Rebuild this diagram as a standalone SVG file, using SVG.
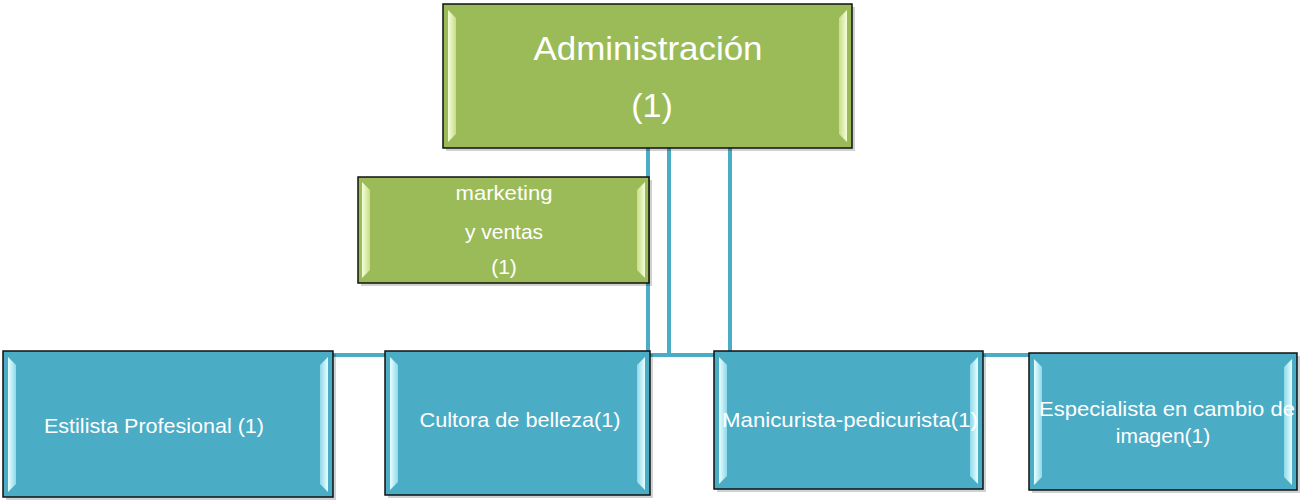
<svg xmlns="http://www.w3.org/2000/svg" width="1300" height="500" viewBox="0 0 1300 500">
<defs>
<linearGradient id="gbevL" x1="0" y1="0" x2="1" y2="0"><stop offset="0" stop-color="#f4ffd8"/><stop offset="1" stop-color="#c8dc8c"/></linearGradient>
<linearGradient id="gbevR" x1="1" y1="0" x2="0" y2="0"><stop offset="0" stop-color="#f4ffd8"/><stop offset="1" stop-color="#c8dc8c"/></linearGradient>
<linearGradient id="bbevL" x1="0" y1="0" x2="1" y2="0"><stop offset="0" stop-color="#e8ffff"/><stop offset="1" stop-color="#8fd8ea"/></linearGradient>
<linearGradient id="bbevR" x1="1" y1="0" x2="0" y2="0"><stop offset="0" stop-color="#e8ffff"/><stop offset="1" stop-color="#8fd8ea"/></linearGradient>
</defs>
<style>
.g{fill:#9bbb59;stroke:#111;stroke-width:1.5}
.b{fill:#4bacc6;stroke:#111;stroke-width:1.5}
.sh{fill:#000;opacity:0.18}
.c{fill:none;stroke:#4bacc6;stroke-width:4}
text{font-family:"Liberation Sans",Arial,sans-serif;fill:#fff;text-anchor:middle}
</style>
<g id="connectors">
<line class="c" x1="333" y1="355" x2="1029" y2="355"/>
<line class="c" x1="648" y1="148" x2="648" y2="355"/>
<line class="c" x1="669" y1="148" x2="669" y2="355"/>
<line class="c" x1="730" y1="148" x2="730" y2="355"/>
</g>
<g id="admin">
<rect class="sh" x="446" y="7" width="409" height="144"/>
<rect class="g" x="443" y="4" width="409" height="144"/>
<polygon fill="url(#gbevL)" points="448,10 456,18 456,134 448,142"/>
<polygon fill="url(#gbevR)" points="847,10 839,18 839,134 847,142"/>
<text x="648" y="60" font-size="34" textLength="229" lengthAdjust="spacingAndGlyphs">Administración</text>
<text x="652" y="117" font-size="34">(1)</text>
</g>
<g id="marketing">
<rect class="sh" x="361" y="180" width="291" height="106"/>
<rect class="g" x="358" y="177" width="291" height="106"/>
<polygon fill="url(#gbevL)" points="362,182 370,190 370,270 362,278"/>
<polygon fill="url(#gbevR)" points="645,182 637,190 637,270 645,278"/>
<text x="504" y="200" font-size="21" textLength="97" lengthAdjust="spacingAndGlyphs">marketing</text>
<text x="504" y="239" font-size="21">y ventas</text>
<text x="504" y="274" font-size="21">(1)</text>
</g>
<g id="estilista">
<rect class="sh" x="6" y="354" width="330" height="146"/>
<rect class="b" x="3" y="351" width="330" height="146"/>
<polygon fill="url(#bbevL)" points="8,357 16,365 16,484 8,492"/>
<polygon fill="url(#bbevR)" points="328,357 320,365 320,484 328,492"/>
<text x="154" y="433" font-size="21" textLength="220" lengthAdjust="spacingAndGlyphs">Estilista Profesional (1)</text>
</g>
<g id="cultora">
<rect class="sh" x="388" y="354" width="265" height="144"/>
<rect class="b" x="385" y="351" width="265" height="144"/>
<polygon fill="url(#bbevL)" points="390,357 398,365 398,482 390,490"/>
<polygon fill="url(#bbevR)" points="645,357 637,365 637,482 645,490"/>
<text x="520" y="427" font-size="21" textLength="201" lengthAdjust="spacingAndGlyphs">Cultora de belleza(1)</text>
</g>
<g id="manicurista">
<rect class="sh" x="717" y="354" width="269" height="138"/>
<rect class="b" x="714" y="351" width="269" height="138"/>
<polygon fill="url(#bbevL)" points="719,357 727,365 727,476 719,484"/>
<polygon fill="url(#bbevR)" points="978,357 970,365 970,476 978,484"/>
<text x="850" y="427" font-size="21" textLength="256" lengthAdjust="spacingAndGlyphs">Manicurista-pedicurista(1)</text>
</g>
<g id="especialista">
<rect class="sh" x="1032" y="356" width="268" height="137"/>
<rect class="b" x="1029" y="353" width="268" height="137"/>
<polygon fill="url(#bbevL)" points="1034,359 1042,367 1042,477 1034,485"/>
<polygon fill="url(#bbevR)" points="1292,359 1284,367 1284,477 1292,485"/>
<text x="1167" y="416" font-size="21" textLength="256" lengthAdjust="spacingAndGlyphs">Especialista en cambio de</text>
<text x="1163" y="443" font-size="21">imagen(1)</text>
</g>
</svg>
